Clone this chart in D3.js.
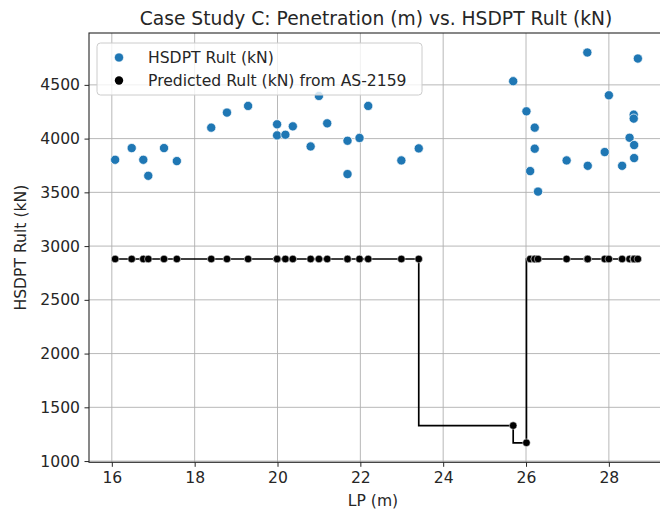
<!DOCTYPE html>
<html>
<head>
<meta charset="utf-8">
<script src="https://cdn.jsdelivr.net/npm/d3@7/dist/d3.min.js"></script>
<style>
  html, body { margin: 0; padding: 0; background: #fff; }
  svg text { font-family: "DejaVu Sans", sans-serif; fill: #262626; }
</style>
</head>
<body>
<svg id="chart" width="660" height="512"></svg>
<script>
// Penetration depth (m) for each test pile
const lp = [
  16.08, 16.48, 16.76, 16.88, 17.26, 17.57, 18.40, 18.78, 19.29, 19.99,
  19.99, 20.19, 20.37, 20.80, 21.00, 21.20, 21.69, 21.69, 21.98, 22.19,
  22.99, 23.41, 25.69, 26.01, 26.10, 26.21, 26.21, 26.29, 26.98, 27.48,
  27.49, 27.90, 28.00, 28.32, 28.50, 28.61, 28.61, 28.60, 28.60, 28.70
];
// Measured HSDPT ultimate capacity (kN)
const hsdptRult = [
  3803, 3912, 3803, 3654, 3912, 3791, 4102, 4242, 4304, 4133,
  4030, 4036, 4114, 3927, 4397, 4142, 3980, 3670, 4006, 4304,
  3797, 3909, 4534, 4254, 3698, 4102, 3906, 3507, 3797, 4801,
  3747, 3875, 4403, 3747, 4008, 3940, 3819, 4223, 4186, 4745
];
// Predicted ultimate capacity (kN) from AS-2159
const predictedRult = [
  2880, 2880, 2880, 2880, 2880, 2880, 2880, 2880, 2880, 2880,
  2880, 2880, 2880, 2880, 2880, 2880, 2880, 2880, 2880, 2880,
  2880, 2880, 1330, 1170, 2880, 2880, 2880, 2880, 2880, 2880,
  2880, 2880, 2880, 2880, 2880, 2880, 2880, 2880, 2880, 2880
];
const xTicks = [16, 18, 20, 22, 24, 26, 28];
const yTicks = [1000, 1500, 2000, 2500, 3000, 3500, 4000, 4500];
const seriesNames = ["HSDPT Rult (kN)", "Predicted Rult (kN) from AS-2159"];

const svg = d3.select("#chart");
const m = { left: 89, top: 33, right: 664, bottom: 462.3 };
const fs = 15.6;

// Autoscale with 5% padding on each side
function padded(ext) {
  const p = (ext[1] - ext[0]) * 0.05;
  return [ext[0] - p, ext[1] + p];
}
const xDom = padded(d3.extent(lp));
const yDom = padded(d3.extent(hsdptRult.concat(predictedRult)));

const x = d3.scaleLinear().domain(xDom).range([m.left, m.right]);
const y = d3.scaleLinear().domain(yDom).range([m.bottom, m.top]);

svg.append("defs").append("clipPath").attr("id", "plot-clip")
  .append("rect").attr("x", m.left).attr("y", m.top)
  .attr("width", m.right - m.left).attr("height", m.bottom - m.top);

// Grid
const grid = svg.append("g");
grid.selectAll(".gx").data(xTicks).join("line")
  .attr("x1", d => x(d)).attr("x2", d => x(d))
  .attr("y1", m.top).attr("y2", m.bottom)
  .attr("stroke", "#b0b0b0").attr("stroke-width", 0.9);
grid.selectAll(".gy").data(yTicks).join("line")
  .attr("x1", m.left).attr("x2", m.right)
  .attr("y1", d => y(d)).attr("y2", d => y(d))
  .attr("stroke", "#b0b0b0").attr("stroke-width", 0.9);

// Axes
const xAxis = d3.axisBottom(x).tickValues(xTicks).tickFormat(d3.format("d"))
  .tickSize(4.5).tickPadding(5.5);
const yAxis = d3.axisLeft(y).tickValues(yTicks).tickFormat(d3.format("d"))
  .tickSize(4.5).tickPadding(4.5);

const gx = svg.append("g").attr("transform", `translate(0,${m.bottom})`).call(xAxis);
const gy = svg.append("g").attr("transform", `translate(${m.left},0)`).call(yAxis);
[gx, gy].forEach(g => {
  g.select(".domain").remove();
  g.selectAll(".tick line").attr("stroke", "#262626").attr("stroke-width", 1);
  g.selectAll(".tick text").style("font-size", fs + "px").attr("fill", "#262626");
});

// Spines
svg.append("rect")
  .attr("x", m.left).attr("y", m.top)
  .attr("width", m.right - m.left).attr("height", m.bottom - m.top)
  .attr("fill", "none").attr("stroke", "#262626").attr("stroke-width", 1.1);

const plot = svg.append("g").attr("clip-path", "url(#plot-clip)");

// Measured values: scatter
const pts = lp.map((v, i) => ({ x: v, h: hsdptRult[i], p: predictedRult[i] }));
plot.selectAll(".hs").data(pts).join("circle")
  .attr("cx", d => x(d.x)).attr("cy", d => y(d.h)).attr("r", 4.6)
  .attr("fill", "#1f77b4").attr("stroke", "#fff").attr("stroke-width", 0.7);

// Predicted values: stepped line with markers
const sorted = pts.slice().sort((a, b) => a.x - b.x);
const line = d3.line().x(d => x(d.x)).y(d => y(d.p)).curve(d3.curveStepBefore);
plot.append("path").datum(sorted).attr("d", line)
  .attr("fill", "none").attr("stroke", "#000").attr("stroke-width", 1.7);
plot.selectAll(".pr").data(sorted).join("circle")
  .attr("cx", d => x(d.x)).attr("cy", d => y(d.p)).attr("r", 3.8)
  .attr("fill", "#000").attr("stroke", "#fff").attr("stroke-width", 0.5);

// Title and axis labels
svg.append("text").attr("x", 376).attr("y", 25)
  .attr("text-anchor", "middle").style("font-size", "18.7px")
  .text("Case Study C: Penetration (m) vs. HSDPT Rult (kN)");
svg.append("text").attr("x", 373).attr("y", 506)
  .attr("text-anchor", "middle").style("font-size", fs + "px").text("LP (m)");
svg.append("text").attr("transform", `translate(25.5,${(m.top + m.bottom) / 2}) rotate(-90)`)
  .attr("text-anchor", "middle").style("font-size", fs + "px").text("HSDPT Rult (kN)");

// Legend
const lg = svg.append("g");
lg.append("rect").attr("x", 97).attr("y", 43).attr("width", 325).attr("height", 52)
  .attr("rx", 3.5).attr("fill", "#fff").attr("fill-opacity", 0.8)
  .attr("stroke", "#cccccc").attr("stroke-width", 1);
lg.append("circle").attr("cx", 119).attr("cy", 57.5).attr("r", 4.6)
  .attr("fill", "#1f77b4").attr("stroke", "#fff").attr("stroke-width", 0.7);
lg.append("circle").attr("cx", 119).attr("cy", 80.5).attr("r", 4.2)
  .attr("fill", "#000");
lg.append("text").attr("x", 148).attr("y", 63).style("font-size", fs + "px").text(seriesNames[0]);
lg.append("text").attr("x", 148).attr("y", 86).style("font-size", fs + "px").text(seriesNames[1]);
</script>
</body>
</html>
